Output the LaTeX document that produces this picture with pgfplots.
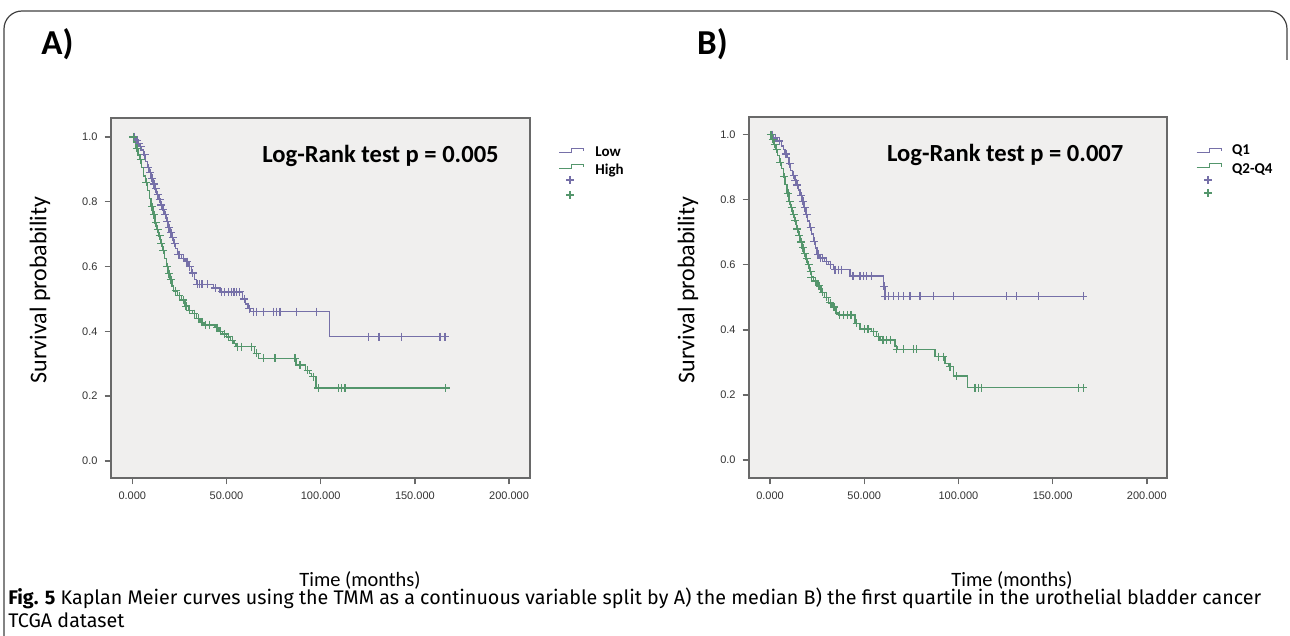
\documentclass[border=0pt]{standalone}
\usepackage{fontspec}
\setmainfont{Carlito}
\newfontfamily\arialf{Liberation Sans}
\newfontfamily\capf{Fira Sans}
\usepackage{pgfplots}
\pgfplotsset{compat=1.18}
\definecolor{kmP}{RGB}{118,112,168}
\definecolor{kmG}{RGB}{84,150,108}
\definecolor{bgP}{RGB}{240,239,238}
\definecolor{axg}{RGB}{105,105,105}

\pgfplotstableread{
x y
0 1.0
2 0.99
3 0.98
4 0.97
5 0.96
6 0.945
7 0.925
8 0.905
9 0.89
10 0.872
11 0.855
12 0.84
13 0.822
14 0.808
15 0.79
16 0.775
17 0.76
18 0.74
19 0.72
20 0.705
21 0.69
22 0.672
23 0.655
24 0.637
26 0.625
28 0.615
30 0.6
31.5 0.58
33 0.56
34.2 0.545
43 0.534
46.6 0.522
58.5 0.50
60 0.485
61.5 0.47
62.5 0.461
104.6 0.384
167.4 0.384
}\ALow
\pgfplotstableread{
x y
1 1.0
2.5 0.99
3.5 0.98
4.5 0.97
6.5 0.945
8.5 0.905
9.5 0.89
10.5 0.872
11.5 0.855
12.5 0.84
13.5 0.822
14.5 0.808
15.5 0.79
16.5 0.775
17.5 0.76
18.5 0.74
19.5 0.72
20.5 0.705
21.5 0.69
22.5 0.672
24.5 0.637
25 0.637
27 0.625
29 0.615
30.5 0.6
32 0.58
34.5 0.545
35.5 0.545
37 0.545
40 0.545
44 0.534
47.5 0.522
49 0.522
51 0.522
52.5 0.522
54 0.522
55.5 0.522
57 0.522
59.5 0.50
62.1 0.47
64.2 0.461
66 0.461
69.5 0.461
74.8 0.461
76.6 0.461
78.4 0.461
87.3 0.461
97.9 0.461
125.3 0.384
131 0.384
143 0.384
163.3 0.384
166 0.384
}\ALowC
\pgfplotstableread{
x y
0 1.0
1 0.985
2 0.965
3 0.945
4 0.93
5 0.905
6 0.88
7 0.86
8 0.835
9 0.81
10 0.785
11 0.76
12 0.735
13 0.715
14 0.695
15 0.672
16 0.65
17 0.625
18 0.6
19 0.578
20 0.56
21 0.54
22 0.525
24 0.51
26 0.497
28 0.478
30 0.465
32 0.455
34 0.44
36 0.428
38 0.42
44 0.412
46 0.40
48 0.392
50 0.383
52 0.372
54 0.362
55 0.353
65 0.332
67 0.317
87 0.296
92 0.28
94 0.27
95 0.26
97.5 0.225
166.3 0.225
}\AHigh
\pgfplotstableread{
x y
0.5 1.0
2.5 0.965
4.5 0.93
7.5 0.86
10.5 0.785
11.5 0.76
12.5 0.735
13.5 0.715
14.5 0.695
15.5 0.672
16.5 0.65
18.5 0.6
19.5 0.578
20.5 0.56
23 0.525
25 0.51
27 0.497
28.5 0.478
30.5 0.465
33 0.455
35 0.44
37 0.428
39 0.42
41 0.42
45 0.412
47 0.40
49 0.392
51 0.383
53 0.372
56 0.353
58 0.353
63.4 0.353
66 0.332
69.5 0.317
75.7 0.317
86.4 0.317
89 0.296
93 0.28
96 0.26
98.7 0.225
109.3 0.225
111.1 0.225
112.9 0.225
166.3 0.225
}\AHighC
\pgfplotstableread{
x y
0 1.0
2 0.99
4 0.98
6 0.965
7 0.955
8 0.94
9 0.93
10 0.91
11 0.89
12 0.875
13 0.86
14 0.845
15 0.83
16 0.812
17 0.795
18 0.775
19 0.755
20 0.735
21 0.715
22 0.695
23 0.672
24 0.652
25 0.632
26.5 0.621
29 0.61
31 0.6
33.6 0.585
42.5 0.565
60.2 0.534
61 0.503
166.3 0.503
}\BQone
\pgfplotstableread{
x y
1 1.0
3 0.99
5 0.98
8.5 0.94
10.5 0.91
12.5 0.875
13.5 0.86
14.5 0.845
16.5 0.812
17.5 0.795
18.5 0.775
19.5 0.755
21.5 0.715
23.5 0.672
25.5 0.632
27 0.621
28 0.621
30 0.61
32 0.6
34.5 0.585
36.3 0.585
38.1 0.585
44 0.565
47.8 0.565
49.5 0.565
51.3 0.565
53.9 0.565
60.5 0.534
61 0.503
62.8 0.503
65.4 0.503
68.1 0.503
70.8 0.503
74.3 0.503
79.6 0.503
86.7 0.503
97.3 0.503
125.6 0.503
130.9 0.503
142.4 0.503
166.3 0.503
}\BQoneC
\pgfplotstableread{
x y
0 1.0
1 0.985
2 0.97
3 0.955
4 0.935
5 0.915
6 0.895
7 0.87
8 0.846
9 0.82
10 0.795
11 0.775
12 0.755
13 0.735
14 0.71
15 0.69
16 0.67
17 0.652
18 0.635
19 0.618
20 0.6
21 0.58
22 0.562
23 0.55
25 0.535
27 0.515
29 0.5
31 0.483
33 0.47
35 0.452
36.3 0.446
45 0.42
47.8 0.402
53.9 0.394
56.5 0.379
58.4 0.369
66.4 0.348
67.3 0.34
87.6 0.318
92.9 0.297
94.7 0.287
97.3 0.258
104.7 0.222
166.3 0.222
}\BQrest
\pgfplotstableread{
x y
0.5 1.0
1.5 0.985
2.5 0.97
3.5 0.955
5.5 0.915
7.5 0.87
9.5 0.82
10.5 0.795
11.5 0.775
12.5 0.755
13.5 0.735
14.5 0.71
15.5 0.69
16.5 0.67
17.5 0.652
18.5 0.635
19.5 0.618
20.5 0.6
21.5 0.58
22 0.562
24 0.55
26 0.535
28 0.515
30 0.5
32 0.483
34 0.47
37 0.446
39 0.446
41 0.446
43 0.446
46 0.42
50 0.402
52 0.402
55 0.394
57.5 0.379
60 0.369
62 0.369
64 0.369
67.3 0.34
70.8 0.34
76.1 0.34
77.9 0.34
89.3 0.318
92 0.318
95.5 0.287
99.1 0.258
108.8 0.222
110.6 0.222
112.4 0.222
163.7 0.222
166.3 0.222
}\BQrestC

\pgfplotsset{kmstyle/.style={
  scale only axis,
  anchor=north west,
  axis background/.style={fill=bgP},
  axis line style={axg, line width=1pt},
  tick style={axg, line width=0.7pt},
  tick align=outside,
  major tick length=3.2pt,
  xtick={0,50,100,150,200},
  ytick={0,0.2,0.4,0.6,0.8,1.0},
  /pgf/number format/assume math mode=true,
  xticklabel style={font=\arialf\fontsize{5.5}{6}\selectfont, text=black!80, /pgf/number format/.cd, fixed, fixed zerofill, precision=3},
  yticklabel style={font=\arialf\fontsize{5.5}{6}\selectfont, text=black!80, /pgf/number format/.cd, fixed, fixed zerofill, precision=1},
  xtick pos=bottom, ytick pos=left,
}}

\begin{document}
\begin{tikzpicture}
% panel A axis
\begin{axis}[kmstyle, at={(55.5pt,-59pt)}, width=209.5pt, height=180pt,
  xmin=-11.3, xmax=211.1, ymin=-0.0525, ymax=1.0586]
\addplot[const plot, kmP, line width=0.7pt] table {\ALow};
\addplot[const plot, kmG, line width=0.7pt] table {\AHigh};
\addplot[only marks, mark=+, mark size=2pt, kmP, mark options={line width=0.6pt}] table {\ALowC};
\addplot[only marks, mark=+, mark size=2pt, kmG, mark options={line width=0.6pt}] table {\AHighC};
\end{axis}
% panel B axis
\begin{axis}[kmstyle, at={(374.5pt,-58.5pt)}, width=209pt, height=180.5pt,
  xmin=-11.15, xmax=210.7, ymin=-0.0553, ymax=1.054]
\addplot[const plot, kmP, line width=0.7pt] table {\BQone};
\addplot[const plot, kmG, line width=0.7pt] table {\BQrest};
\addplot[only marks, mark=+, mark size=2pt, kmP, mark options={line width=0.6pt}] table {\BQoneC};
\addplot[only marks, mark=+, mark size=2pt, kmG, mark options={line width=0.6pt}] table {\BQrestC};
\end{axis}

\begin{scope}[x=0.5pt,y=-0.5pt]
\path[use as bounding box] (0,0) rectangle (1290,636);
% frame
\draw[black!75, line width=0.6pt, rounded corners=9pt] (4,640) -- (4,11) -- (1287,11) -- (1287,60);
% panel labels
\node[font=\bfseries\fontsize{17.5}{20}\selectfont] at (57.5,44) {A)};
\node[font=\bfseries\fontsize{17.5}{20}\selectfont] at (712.5,44) {B)};
% log rank
\node[anchor=west, inner sep=0pt, font=\bfseries\fontsize{12.3}{14}\selectfont] at (262,155.5) {Log-Rank test p = 0.005};
\node[anchor=west, inner sep=0pt, font=\bfseries\fontsize{12.3}{14}\selectfont] at (886.7,155) {Log-Rank test p = 0.007};
% axis titles
\node[rotate=90, font=\fontsize{12}{14}\selectfont] at (40,290) {Survival probability};
\node[rotate=90, font=\fontsize{12}{14}\selectfont] at (688,290) {Survival probability};
\node[font=\fontsize{10.2}{12}\selectfont] at (360,580) {Time (months)};
\node[font=\fontsize{10.2}{12}\selectfont] at (1012,580) {Time (months)};
% legend A
\draw[kmP, line width=0.6pt] (559,152.3) -- (571.7,152.3) -- (571.7,148.3) -- (583.3,148.3) -- (583.3,151.5);
\draw[kmG, line width=0.6pt] (559,168.3) -- (571.7,168.3) -- (571.7,164.3) -- (583.3,164.3) -- (583.3,167.5);
\draw[kmP, line width=0.55pt] (566,180) -- (574,180) (570,176) -- (570,184);
\draw[kmG, line width=0.55pt] (566,195) -- (574,195) (570,191) -- (570,199);
\node[anchor=west, inner sep=0pt, font=\bfseries\fontsize{7.5}{9}\selectfont] at (595,152) {Low};
\node[anchor=west, inner sep=0pt, font=\bfseries\fontsize{7.5}{9}\selectfont] at (595,171) {High};
% legend B
\draw[kmP, line width=0.6pt] (1196.7,152.3) -- (1209.3,152.3) -- (1209.3,148.3) -- (1221.7,148.3) -- (1221.7,151.5);
\draw[kmG, line width=0.6pt] (1196.7,167.7) -- (1209.3,167.7) -- (1209.3,163.7) -- (1221.7,163.7) -- (1221.7,167);
\draw[kmP, line width=0.55pt] (1204,180) -- (1212,180) (1208,176) -- (1208,184);
\draw[kmG, line width=0.55pt] (1204,193) -- (1212,193) (1208,189) -- (1208,197);
\node[anchor=west, inner sep=0pt, font=\bfseries\fontsize{7.5}{9}\selectfont] at (1231.7,151) {Q1};
\node[anchor=west, inner sep=0pt, font=\bfseries\fontsize{7.5}{9}\selectfont] at (1231.7,170) {Q2-Q4};
% caption
\node[anchor=base west, inner sep=0pt, font=\capf\fontsize{9.85}{11}\selectfont] at (8,604) {\textbf{Fig. 5} Kaplan Meier curves using the TMM as a continuous variable split by A) the median B) the first quartile in the urothelial bladder cancer};
\node[anchor=base west, inner sep=0pt, font=\capf\fontsize{9.85}{11}\selectfont] at (8,627) {TCGA dataset};
\end{scope}
\end{tikzpicture}
\end{document}
